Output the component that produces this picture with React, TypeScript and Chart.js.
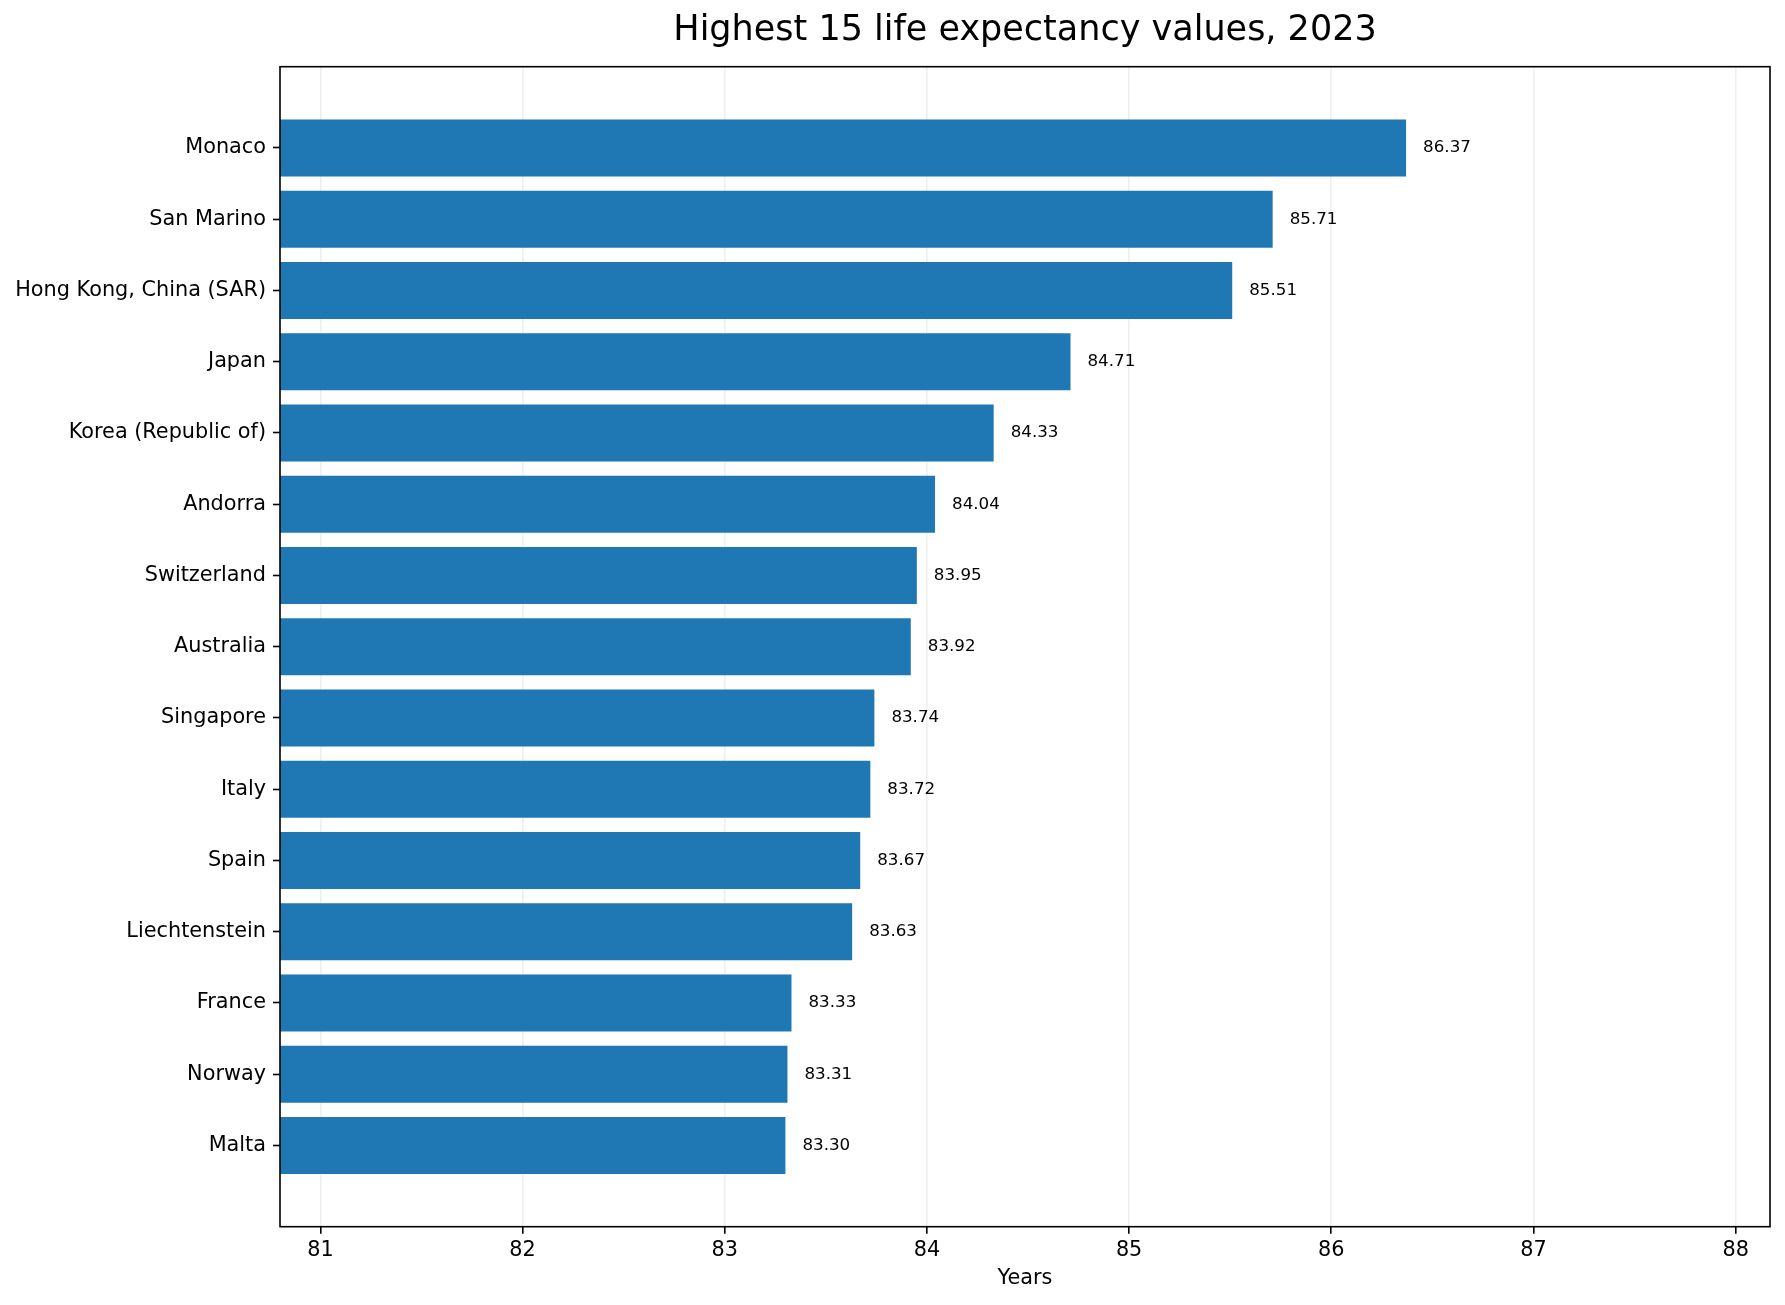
import React, { useEffect, useRef } from "react";
import { Chart, registerables } from "chart.js";

Chart.register(...registerables);

// data, top to bottom as in the picture
const countries = [
  "Monaco",
  "San Marino",
  "Hong Kong, China (SAR)",
  "Japan",
  "Korea (Republic of)",
  "Andorra",
  "Switzerland",
  "Australia",
  "Singapore",
  "Italy",
  "Spain",
  "Liechtenstein",
  "France",
  "Norway",
  "Malta",
];
const lifeExpectancy = [
  86.37, 85.71, 85.51, 84.71, 84.33, 84.04, 83.95, 83.92, 83.74, 83.72, 83.67,
  83.63, 83.33, 83.31, 83.3,
];
const xTicks = [81, 82, 83, 84, 85, 86, 87, 88];

const chartTitle = "Highest 15 life expectancy values, 2023";
const xAxisTitle = "Years";

const FONT = "DejaVu Sans";
const BAR_COLOUR = "#1f77b4";

const App: React.FC = () => {
  const canvasRef = useRef<HTMLCanvasElement | null>(null);
  const chartRef = useRef<Chart | null>(null);

  useEffect(() => {
    document.body.style.margin = "0";
    if (!canvasRef.current) return;
    if (chartRef.current) chartRef.current.destroy();

    // title centred over the plot area, like matplotlib
    const titlePlugin = {
      id: "plotTitle",
      afterDraw(chart: any) {
        const { ctx, chartArea } = chart;
        ctx.save();
        ctx.font = `35px "${FONT}"`;
        ctx.fillStyle = "#000";
        ctx.textAlign = "center";
        ctx.textBaseline = "middle";
        ctx.fillText(chartTitle, (chartArea.left + chartArea.right) / 2, 30.6);
        ctx.restore();
      },
    };

    // box round the plot (all four spines)
    const framePlugin = {
      id: "frame",
      afterDraw(chart: any) {
        const { ctx, chartArea } = chart;
        ctx.save();
        ctx.strokeStyle = "#000";
        ctx.lineWidth = 1.6;
        ctx.strokeRect(
          chartArea.left,
          chartArea.top,
          chartArea.right - chartArea.left,
          chartArea.bottom - chartArea.top
        );
        ctx.restore();
      },
    };

    // value text next to each bar end
    const valueLabels = {
      id: "valueLabels",
      afterDraw(chart: any) {
        const { ctx } = chart;
        const meta = chart.getDatasetMeta(0);
        ctx.save();
        ctx.font = `16.7px "${FONT}"`;
        ctx.fillStyle = "#000";
        ctx.textAlign = "left";
        ctx.textBaseline = "middle";
        meta.data.forEach((bar: any, i: number) => {
          ctx.fillText(lifeExpectancy[i].toFixed(2), bar.x + 17, bar.y);
        });
        ctx.restore();
      },
    };

    chartRef.current = new Chart(canvasRef.current, {
      type: "bar",
      data: {
        datasets: [
          {
            data: lifeExpectancy.map((v, i) => ({ x: v, y: i })),
            backgroundColor: BAR_COLOUR,
            borderWidth: 0,
            barPercentage: 0.8,
            categoryPercentage: 1,
            clip: 0,
          } as any,
        ],
      },
      options: {
        indexAxis: "y",
        animation: false,
        responsive: false,
        devicePixelRatio: 1,
        layout: { padding: { left: 0, right: 15, top: 66.7, bottom: 0 } },
        plugins: {
          legend: { display: false },
          tooltip: { enabled: false },
          title: { display: false },
        },
        scales: {
          x: {
            type: "linear",
            position: "bottom",
            min: 80.8,
            max: 88.17,
            z: 1,
            afterBuildTicks: (axis: any) => {
              axis.ticks = xTicks.map((v) => ({ value: v }));
            },
            afterFit: (axis: any) => {
              axis.height = 78.3;
            },
            grid: {
              color: "rgba(176,176,176,0.2)",
              lineWidth: 1.6,
              tickColor: "#000",
              tickWidth: 1.6,
              tickLength: 7,
            },
            border: { display: false },
            ticks: {
              color: "#000",
              font: { size: 20.8, family: FONT },
              padding: 4.5,
              maxRotation: 0,
              callback: (v: any) => String(v),
            },
            title: {
              display: true,
              text: xAxisTitle,
              color: "#000",
              font: { size: 20.8, family: FONT },
              padding: { top: 0, bottom: 14.1 },
            },
          },
          y: {
            type: "linear",
            min: -1.14,
            max: 15.14,
            reverse: true,
            offset: false,
            z: 1,
            afterBuildTicks: (axis: any) => {
              axis.ticks = countries.map((_, i) => ({ value: i }));
            },
            afterFit: (axis: any) => {
              axis.width = 280;
            },
            grid: {
              offset: false,
              drawOnChartArea: false,
              tickColor: "#000",
              tickWidth: 1.6,
              tickLength: 7,
            },
            border: { display: false },
            ticks: {
              color: "#000",
              font: { size: 20.8, family: FONT },
              padding: 7,
              autoSkip: false,
              callback: (v: any) => countries[v] ?? "",
            },
          },
        },
      },
      plugins: [framePlugin, valueLabels, titlePlugin],
    });

    return () => {
      if (chartRef.current) {
        chartRef.current.destroy();
        chartRef.current = null;
      }
    };
  }, []);

  return (
    <div style={{ width: 1785, height: 1305, background: "#fff" }}>
      <canvas ref={canvasRef} width={1785} height={1305} style={{ display: "block" }} />
    </div>
  );
};

export default App;
